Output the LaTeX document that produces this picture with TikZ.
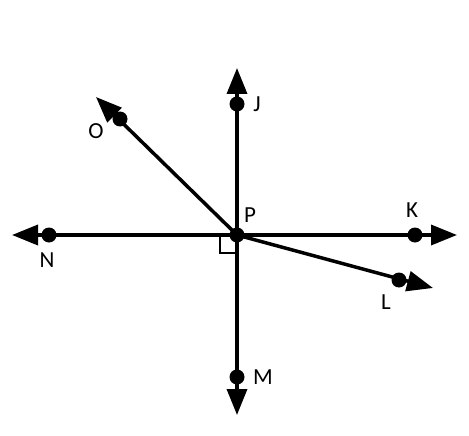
\documentclass[tikz,border=0pt]{standalone}
\usepackage{fontspec}
\setmainfont{Carlito}
\usetikzlibrary{arrows.meta}
\begin{document}
\begin{tikzpicture}[x=1pt,y=-1pt,
  ray/.style={line width=3.5pt,-{Triangle[length=26pt,width=20pt]}},
  dot/.style={circle,fill=black,inner sep=0pt,minimum size=15pt},
  lbl/.style={font=\fontsize{23}{23}\selectfont,inner sep=0pt}]
\useasboundingbox (0,0) rectangle (469,436);
\coordinate (P) at (237,235);
\coordinate (Jt) at (237,68);
\coordinate (Mt) at (237,415);
\coordinate (Nt) at (12,235);
\coordinate (Kt) at (457,235);
\coordinate (Lt) at (433,288);
\coordinate (Ot) at (96,97);
\draw[ray] (P) -- (Jt);
\draw[ray] (P) -- (Mt);
\draw[ray] (P) -- (Nt);
\draw[ray] (P) -- (Kt);
\draw[ray] (P) -- (Lt);
\draw[ray] (P) -- (Ot);
\draw[line width=2.5pt] (237,253) -| (220,235);
\node[dot] (Pd) at (P) {};
\node[dot] (J) at (237,104) {};
\node[dot] (M) at (237,377) {};
\node[dot] (N) at (49,235) {};
\node[dot] (K) at (415,235) {};
\node[dot] (L) at (399,280) {};
\node[dot] (O) at (120,119) {};
\node[lbl] (lJ) at (257,104) {J};
\node[lbl] (lO) at (96,131) {O};
\node[lbl] (lP) at (250,215) {P};
\node[lbl] (lK) at (412,210) {K};
\node[lbl] (lN) at (47,260) {N};
\node[lbl] (lL) at (386,302) {L};
\node[lbl] (lM) at (263,377) {M};
\end{tikzpicture}
\end{document}
